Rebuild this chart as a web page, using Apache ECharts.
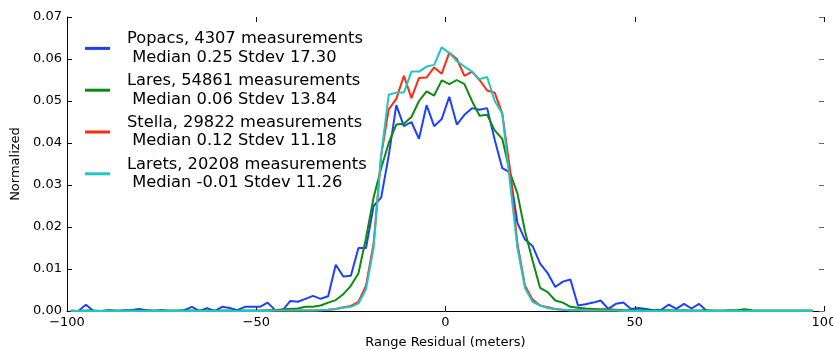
<!DOCTYPE html>
<html>
<head>
<meta charset="utf-8">
<script src="https://cdn.jsdelivr.net/npm/echarts@6/dist/echarts.min.js"></script>
<style>
  html, body { margin: 0; padding: 0; background: #fff; }
  #chart { width: 833px; height: 349px; }
</style>
</head>
<body>
<div id="chart"></div>
<script>
// histogram bin centres (meters)
const binCenters = [
  -99, -97, -95, -93, -91, -89, -87, -85, -83, -81,
  -79, -77, -75, -73, -71, -69, -67, -65, -63, -61,
  -59, -57, -55, -53, -51, -49, -47, -45, -43, -41,
  -39, -37, -35, -33, -31, -29, -27, -25, -23, -21,
  -19, -17, -15, -13, -11, -9, -7, -5, -3, -1,
  1, 3, 5, 7, 9, 11, 13, 15, 17, 19,
  21, 23, 25, 27, 29, 31, 33, 35, 37, 39,
  41, 43, 45, 47, 49, 51, 53, 55, 57, 59,
  61, 63, 65, 67, 69, 71, 73, 75, 77, 79,
  81, 83, 85, 87, 89, 91, 93, 95, 97
]

const popacs = [
  0, 0, 0.0015, 0, 0, 0.0002, 0, 0.0002, 0.0002, 0.0005,
  0.0002, 0, 0.0002, 0, 0, 0.0002, 0.001, 0, 0.0007, 0,
  0.001, 0.0007, 0.0002, 0.001, 0.001, 0.001, 0.002, 0.0002, 0.0002, 0.0024,
  0.0022, 0.0029, 0.0036, 0.0029, 0.0035, 0.011, 0.0082, 0.0084, 0.015, 0.015,
  0.025, 0.027, 0.037, 0.049, 0.044, 0.045, 0.041, 0.049, 0.044, 0.0457,
  0.051, 0.0444, 0.0467, 0.0483, 0.0479, 0.0483, 0.0408, 0.034, 0.033, 0.021,
  0.017, 0.0155, 0.0113, 0.009, 0.0057, 0.007, 0.0075, 0.0013, 0.0016, 0.002,
  0.0025, 0.0005, 0.0017, 0.002, 0.0005, 0.0007, 0.0005, 0.0002, 0.0003, 0.0015,
  0.0005, 0.0017, 0.0006, 0.0017, 0, 0, 0, 0, 0, 0,
  0, 0, 0, 0, 0, 0, 0, 0, 0
]

const lares = [
  0.0001, 0, 0.0001, 0.0001, 0, 0.0001, 0.0001, 0, 0.0001, 0.0001,
  0.0001, 0.0001, 0.0001, 0.0001, 0.0001, 0.0001, 0.0001, 0.0001, 0.0001, 0.0001,
  0.0001, 0.0001, 0.0001, 0.0001, 0.0001, 0.0001, 0.0002, 0.0002, 0.0004, 0.0005,
  0.0006, 0.001, 0.001, 0.0013, 0.002, 0.0026, 0.004, 0.006, 0.009, 0.0174,
  0.027, 0.034, 0.040, 0.0444, 0.0446, 0.0462, 0.050, 0.0523, 0.0513, 0.0549,
  0.054, 0.055, 0.054, 0.050, 0.0465, 0.0467, 0.043, 0.041, 0.033, 0.028,
  0.019, 0.012, 0.0055, 0.0045, 0.0025, 0.002, 0.001, 0.0008, 0.0006, 0.0005,
  0.0004, 0.0004, 0.0003, 0.0002, 0.0002, 0.0002, 0.0002, 0.0002, 0.0002, 0.0002,
  0.0001, 0.0002, 0.0001, 0.0001, 0.0002, 0.0001, 0.0001, 0.0002, 0.0002, 0.0004,
  0.0002, 0.0001, 0.0001, 0.0001, 0.0001, 0.0001, 0.0001, 0.0001, 0.0001
]

const stella = [
  0, 0, 0, 0, 0, 0, 0, 0, 0, 0,
  0, 0, 0, 0, 0, 0, 0, 0, 0, 0,
  0, 0, 0, 0, 0, 0, 0, 0.0001, 0.0001, 0.0001,
  0.0001, 0.0001, 0.0001, 0.0002, 0.0003, 0.0005, 0.0009, 0.0012, 0.0022, 0.006,
  0.016, 0.037, 0.048, 0.0505, 0.056, 0.0507, 0.0555, 0.0556, 0.058, 0.0565,
  0.0615, 0.060, 0.056, 0.057, 0.055, 0.0525, 0.052, 0.047, 0.034, 0.016,
  0.006, 0.0027, 0.0013, 0.0009, 0.0005, 0.0003, 0.0002, 0.0002, 0.0001, 0.0001,
  0.0001, 0.0001, 0.0001, 0, 0, 0, 0, 0, 0, 0,
  0, 0, 0, 0, 0, 0, 0, 0, 0, 0,
  0, 0, 0, 0, 0, 0, 0, 0, 0
]

const larets = [
  0, 0, 0, 0, 0, 0, 0, 0, 0, 0,
  0, 0, 0, 0, 0, 0, 0, 0, 0, 0,
  0, 0, 0, 0, 0, 0, 0, 0.0001, 0.0001, 0.0001,
  0.0001, 0.0001, 0.0001, 0.0002, 0.0003, 0.0004, 0.0008, 0.001, 0.0018, 0.0052,
  0.015, 0.037, 0.0515, 0.052, 0.052, 0.057, 0.057, 0.0582, 0.0586, 0.0628,
  0.0614, 0.0595, 0.0582, 0.057, 0.0552, 0.0557, 0.050, 0.047, 0.031, 0.015,
  0.0055, 0.0022, 0.0013, 0.0007, 0.0004, 0.0003, 0.0002, 0.0002, 0.0001, 0.0001,
  0.0001, 0.0001, 0.0001, 0, 0, 0, 0, 0, 0, 0,
  0, 0, 0, 0, 0, 0, 0, 0, 0, 0,
  0, 0, 0, 0, 0, 0, 0, 0, 0
]

const satNames = ['Popacs', 'Lares', 'Stella', 'Larets']
const satCounts = [4307, 54861, 29822, 20208]
const satMedians = ['0.25', '0.06', '0.12', '-0.01']
const satStdevs = ['17.30', '13.84', '11.18', '11.26']
const satColors = ['#1f3fff', '#0f8a0f', '#ff2a10', '#1ec6c6']
const satValues = [popacs, lares, stella, larets]

const font = 'DejaVu Sans'
const minus = v => String(v).replace('-', '\u2212')

const chart = echarts.init(document.getElementById('chart'))

const series = satNames.map((name, i) => ({
  name,
  type: 'line',
  symbol: 'none',
  smooth: false,
  color: satColors[i],
  lineStyle: { width: 2, color: satColors[i] },
  data: binCenters.map((x, j) => [x, satValues[i][j]])
}))

chart.setOption({
  animation: false,
  backgroundColor: '#fff',
  grid: { left: 67, right: 9, top: 17, bottom: 38, outerBoundsMode: 'none', containLabel: false },
  legend: {
    orient: 'vertical',
    left: 85,
    top: 30,
    padding: 0,
    itemGap: 5,
    itemWidth: 25,
    itemHeight: 3,
    icon: 'rect',
    data: satNames,
    formatter: name => {
      const i = satNames.indexOf(name)
      return `${name}, ${satCounts[i]} measurements\n Median ${satMedians[i]} Stdev ${satStdevs[i]}`
    },
    textStyle: {
      fontFamily: font,
      fontSize: 16.3,
      lineHeight: 18.4,
      color: '#000',
      padding: [0, 0, 0, 12]
    }
  },
  xAxis: [
    {
      type: 'value',
      min: -100,
      max: 100,
      interval: 50,
      name: 'Range Residual (meters)',
      nameLocation: 'middle',
      nameGap: 25,
      nameTextStyle: { fontFamily: font, fontSize: 13, color: '#000' },
      axisLine: { show: true, onZero: false, lineStyle: { color: '#000', width: 1 } },
      axisTick: { show: true, inside: true, length: 5, lineStyle: { color: '#000' } },
      axisLabel: {
        fontFamily: font, fontSize: 13, color: '#000', margin: 5,
        formatter: v => minus(v)
      },
      splitLine: { show: false }
    },
    {
      type: 'value',
      position: 'top',
      min: -100,
      max: 100,
      interval: 50,
      axisLine: { show: false, onZero: false },
      axisTick: { show: true, inside: true, length: 5, lineStyle: { color: '#000' } },
      axisLabel: { show: false },
      splitLine: { show: false }
    }
  ],
  yAxis: [
    {
      type: 'value',
      min: 0,
      max: 0.07,
      interval: 0.01,
      name: 'Normalized',
      nameLocation: 'middle',
      nameGap: 42,
      nameTextStyle: { fontFamily: font, fontSize: 13, color: '#000' },
      axisLine: { show: true, onZero: false, lineStyle: { color: '#000', width: 1 } },
      axisTick: { show: true, inside: true, length: 5, lineStyle: { color: '#000' } },
      axisLabel: {
        fontFamily: font, fontSize: 13, color: '#000', margin: 5,
        formatter: v => v.toFixed(2)
      },
      splitLine: { show: false }
    },
    {
      type: 'value',
      position: 'right',
      min: 0,
      max: 0.07,
      interval: 0.01,
      axisLine: { show: false, onZero: false },
      axisTick: { show: true, inside: true, length: 5, lineStyle: { color: '#666' } },
      axisLabel: { show: false },
      splitLine: { show: false }
    }
  ],
  series
})
</script>
</body>
</html>
